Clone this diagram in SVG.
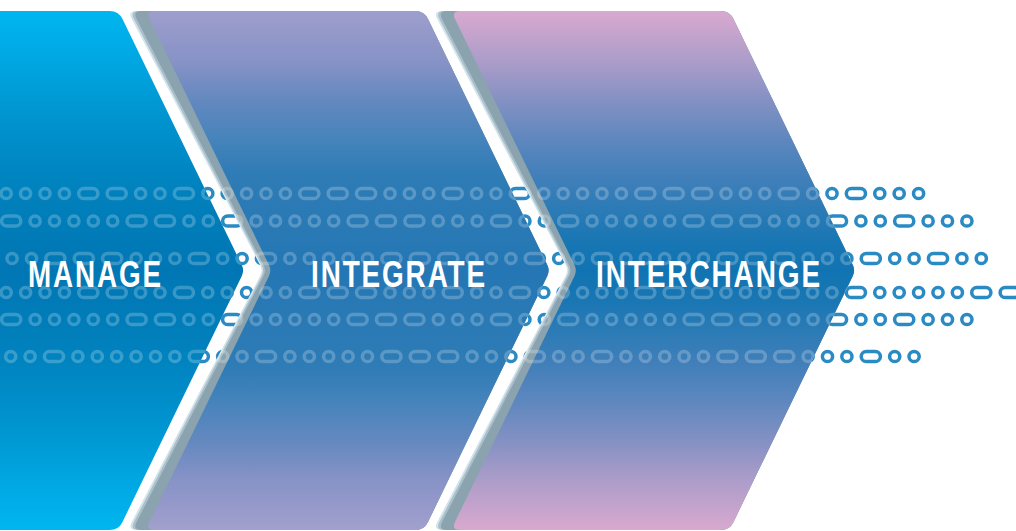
<svg xmlns="http://www.w3.org/2000/svg" xmlns:xlink="http://www.w3.org/1999/xlink" width="1016" height="531" viewBox="0 0 1016 531">
<style>
.lbl{font-family:"Liberation Sans",Arial,sans-serif;font-weight:700;font-size:37px;letter-spacing:2.5px;fill:#ffffff}
.sh1{fill:#d3e3eb}.sh2{fill:#a9bfca}.sh3{fill:#8aa3af}
</style>
<defs>
<linearGradient id="g1" gradientUnits="userSpaceOnUse" x1="0" y1="11" x2="0" y2="530">
<stop offset="0" stop-color="#00b6f0"/><stop offset=".1" stop-color="#00a6e1"/><stop offset=".18" stop-color="#0098d3"/><stop offset=".27" stop-color="#008bc7"/><stop offset=".36" stop-color="#0080bc"/><stop offset=".5" stop-color="#0077b4"/><stop offset=".64" stop-color="#0080bc"/><stop offset=".73" stop-color="#008bc7"/><stop offset=".82" stop-color="#0098d3"/><stop offset=".9" stop-color="#00a6e1"/><stop offset="1" stop-color="#00b6f0"/>
</linearGradient>
<linearGradient id="g2" gradientUnits="userSpaceOnUse" x1="0" y1="11" x2="0" y2="530">
<stop offset="0" stop-color="#9e9ecd"/><stop offset=".1" stop-color="#8692c6"/><stop offset=".17" stop-color="#6489bf"/><stop offset=".25" stop-color="#4583bb"/><stop offset=".31" stop-color="#2f7cb6"/><stop offset=".5" stop-color="#2477b4"/><stop offset=".69" stop-color="#2f7cb6"/><stop offset=".75" stop-color="#4583bb"/><stop offset=".83" stop-color="#6489bf"/><stop offset=".9" stop-color="#8692c6"/><stop offset="1" stop-color="#a2a0cd"/>
</linearGradient>
<linearGradient id="g3" gradientUnits="userSpaceOnUse" x1="0" y1="11" x2="0" y2="530">
<stop offset="0" stop-color="#d9a9cf"/><stop offset=".1" stop-color="#aa9cc9"/><stop offset=".17" stop-color="#8591c3"/><stop offset=".25" stop-color="#5d87be"/><stop offset=".31" stop-color="#4580ba"/><stop offset=".38" stop-color="#2c7bb6"/><stop offset=".45" stop-color="#1776b3"/><stop offset=".5" stop-color="#1174b2"/><stop offset=".55" stop-color="#1776b3"/><stop offset=".62" stop-color="#2c7bb6"/><stop offset=".69" stop-color="#4580ba"/><stop offset=".75" stop-color="#5d87be"/><stop offset=".83" stop-color="#8591c3"/><stop offset=".9" stop-color="#aa9cc9"/><stop offset="1" stop-color="#d9a9cf"/>
</linearGradient>
<path id="c1" d="M-20,11 H109.6 Q118.6,11 122.5,19.1 L241.8,265.1 Q244.4,270.5 241.8,275.9 L122.5,521.9 Q118.6,530 109.6,530 H-20 Z"/>
<path id="cL" d="M136.5,11 H415.1 Q424.1,11 428,19.1 L547.3,265.1 Q549.9,270.5 547.3,275.9 L428,521.9 Q424.1,530 415.1,530 H136.5 Q127.5,530 131.7,522 L260.2,275.8 Q263,270.5 260.2,265.2 L131.7,19 Q127.5,11 136.5,11 Z"/>
<path id="cM" d="M138.8,11 H415.1 Q424.1,11 428,19.1 L547.3,265.1 Q549.9,270.5 547.3,275.9 L428,521.9 Q424.1,530 415.1,530 H138.8 Q129.8,530 133.9,522 L261.7,275.8 Q264.5,270.5 261.7,265.2 L133.9,19 Q129.8,11 138.8,11 Z"/>
<path id="cD" d="M141.5,11 H415.1 Q424.1,11 428,19.1 L547.3,265.1 Q549.9,270.5 547.3,275.9 L428,521.9 Q424.1,530 415.1,530 H141.5 Q132.5,530 136.6,522 L263.6,275.8 Q266.4,270.5 263.6,265.2 L136.6,19 Q132.5,11 141.5,11 Z"/>
<path id="cB" d="M154.6,11 H415.1 Q424.1,11 428,19.1 L547.3,265.1 Q549.9,270.5 547.3,275.9 L428,521.9 Q424.1,530 415.1,530 H154.6 Q145.6,530 149.5,521.9 L269,275.9 Q271.6,270.5 269,265.1 L149.5,19.1 Q145.6,11 154.6,11 Z"/>
<clipPath id="k1"><use href="#c1"/></clipPath>
<clipPath id="k2"><use href="#cL"/></clipPath>
<clipPath id="k3"><use href="#cL" transform="translate(305.5,0)"/></clipPath>
<circle id="o" cx="6.7" cy="0" r="5.1"/>
<rect id="p" x="1.6" y="-5.1" width="19.2" height="10.2" rx="5.1"/>
<g id="M">
<use href="#p"/>
<use href="#o" x="28.4"/><use href="#o" x="47.8"/><use href="#o" x="67.2"/><use href="#o" x="86.6"/><use href="#o" x="106"/>
<use href="#p" x="125.4"/><use href="#p" x="153.8"/><use href="#p" x="182.2"/>
<use href="#o" x="210.6"/><use href="#o" x="230"/><use href="#o" x="249.4"/>
<use href="#p" x="268.8"/>
<use href="#o" x="297.2"/><use href="#o" x="316.6"/>
</g>
<g id="rA">
<use href="#o" x="-0.5"/><use href="#o" x="18.9"/><use href="#o" x="38.3"/><use href="#o" x="57.7"/>
<use href="#p" x="77.1"/><use href="#p" x="105.5"/>
<use href="#o" x="133.9"/><use href="#o" x="153.3"/>
<use href="#M" x="172.7"/><use href="#M" x="508.7"/>
<use href="#p" x="844.7"/>
<use href="#o" x="873.1"/><use href="#o" x="892.5"/><use href="#o" x="911.9"/>
</g>
<g id="rB">
<use href="#p" x="0"/>
<use href="#o" x="28.4"/><use href="#o" x="47.8"/><use href="#o" x="67.2"/><use href="#o" x="86.6"/><use href="#o" x="106"/>
<use href="#p" x="125.4"/><use href="#p" x="153.8"/>
<use href="#o" x="182.2"/><use href="#o" x="201.6"/>
<use href="#M" x="221"/><use href="#M" x="557"/>
<use href="#p" x="893"/>
<use href="#o" x="921.4"/><use href="#o" x="940.8"/><use href="#o" x="960.2"/>
</g>
<g id="rC">
<use href="#M" x="-81.2"/><use href="#M" x="254.8"/><use href="#M" x="590.8"/>
<use href="#p" x="926.8"/>
<use href="#o" x="955.2"/><use href="#o" x="974.6"/>
</g>
<g id="rD">
<use href="#rA"/>
<use href="#o" x="931.3"/><use href="#o" x="950.7"/>
<use href="#p" x="970.1"/><use href="#p" x="998.5"/>
</g>
<g id="rF">
<use href="#o" x="4"/><use href="#o" x="23.4"/>
<use href="#p" x="42.8"/>
<use href="#o" x="71.2"/><use href="#o" x="90.6"/><use href="#o" x="110"/><use href="#o" x="129.4"/><use href="#o" x="148.8"/><use href="#o" x="168.2"/>
<use href="#p" x="187.6"/>
<use href="#o" x="216"/><use href="#o" x="235.4"/>
<use href="#M" x="254.8"/><use href="#M" x="590.8"/>
</g>
<g id="dots" fill="none" stroke-width="3.5">
<use href="#rA" y="193.5"/>
<use href="#rB" y="221"/>
<use href="#rC" y="258.5"/>
<use href="#rD" y="292.5"/>
<use href="#rB" y="319.5"/>
<use href="#rF" y="356.5"/>
</g>
</defs>
<rect width="1016" height="531" fill="#ffffff"/>
<g id="dot-trails">
<use href="#dots" stroke="#2a8ac3"/>
</g>
<g id="node-manage">
<use href="#c1" fill="url(#g1)"/>
<use href="#dots" stroke="#ffffff" stroke-opacity="0.22" clip-path="url(#k1)"/>
<text class="lbl" x="28" y="287" textLength="135" lengthAdjust="spacingAndGlyphs">MANAGE</text>
</g>
<g id="node-integrate">
<use href="#cL" class="sh1"/>
<use href="#cM" class="sh2"/>
<use href="#cD" class="sh3"/>
<use href="#cB" fill="url(#g2)"/>
<use href="#dots" stroke="#ffffff" stroke-opacity="0.22" clip-path="url(#k2)"/>
<text class="lbl" x="311" y="287" textLength="176" lengthAdjust="spacingAndGlyphs">INTEGRATE</text>
</g>
<g id="node-interchange">
<g transform="translate(305.5,0)">
<use href="#cL" class="sh1"/>
<use href="#cM" class="sh2"/>
<use href="#cD" class="sh3"/>
<use href="#cB" fill="url(#g3)"/>
</g>
<use href="#dots" stroke="#ffffff" stroke-opacity="0.22" clip-path="url(#k3)"/>
<text class="lbl" x="596" y="287" textLength="226" lengthAdjust="spacingAndGlyphs">INTERCHANGE</text>
</g>
</svg>
